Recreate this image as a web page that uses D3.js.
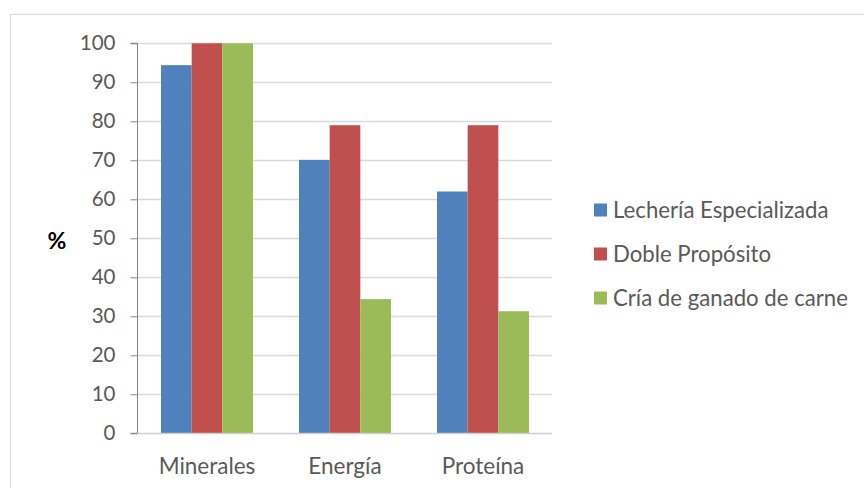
<!DOCTYPE html>
<html><head><meta charset="utf-8">
<script src="https://cdn.jsdelivr.net/npm/d3@7"></script>
<style>body{margin:0;background:#fff;} svg{display:block;font-family:Lato,"Open Sans",sans-serif;}</style>
</head><body><svg id="c" width="864" height="488"></svg>
<script>
const categories = ["Minerales", "Energía", "Proteína"];
const seriesNames = ["Lechería Especializada", "Doble Propósito", "Cría de ganado de carne"];
const lecheria = [94.4, 70.1, 62.0];
const doble = [100, 79.0, 79.0];
const cria = [100, 34.4, 31.3];
const yTicks = [0, 10, 20, 30, 40, 50, 60, 70, 80, 90, 100];
const colors = ["#4F81BD", "#C0504D", "#9BBB59"];
const seriesValues = [lecheria, doble, cria];

const svg = d3.select("#c");
svg.append("rect").attr("x", 10.5).attr("y", 14.5).attr("width", 900).attr("height", 500)
  .attr("fill", "#fff").attr("stroke", "#d9d9d9").attr("stroke-width", 1);

const y = d3.scaleLinear().domain([0, 100]).range([433.3, 43.3]);
const x = d3.scaleBand().domain(categories).range([138, 552]).paddingInner(1/3).paddingOuter(1/6);
const xs = d3.scaleBand().domain(seriesNames).range([0, x.bandwidth()]);

// gridlines
svg.append("g").selectAll("line").data(yTicks.filter(d => d > 0)).join("line")
  .attr("x1", 138).attr("x2", 552).attr("y1", d => Math.round(y(d)) + 0.5).attr("y2", d => Math.round(y(d)) + 0.5)
  .attr("stroke", "#d9d9d9").attr("stroke-width", 1.3);

// bars
const groups = svg.append("g").selectAll("g").data(seriesNames).join("g")
  .attr("fill", (d, i) => colors[i]);
groups.selectAll("rect").data((s, si) => categories.map((c, ci) => ({c, s, v: seriesValues[si][ci]}))).join("rect")
  .attr("x", d => x(d.c) + xs(d.s)).attr("width", xs.bandwidth())
  .attr("y", d => y(d.v)).attr("height", d => y(0) - y(d.v));

// x axis baseline
svg.append("line").attr("x1", 138).attr("x2", 552).attr("y1", Math.round(y(0)) + 0.5).attr("y2", Math.round(y(0)) + 0.5)
  .attr("stroke", "#d0d0d0").attr("stroke-width", 1.3);

// y axis
const yAxis = d3.axisLeft(y).tickValues(yTicks).tickSize(7).tickPadding(15);
const ga = svg.append("g").attr("transform", "translate(137.5,0)").call(yAxis);
ga.select(".domain").attr("stroke", "#868686").attr("d", `M-7,${y(100)}H0V${y(0)}H-7`);
ga.selectAll(".tick line").attr("stroke", "#868686");
ga.selectAll(".tick text").attr("fill", "#595959").style("font-size", "20.5px").style("font-family", "Lato");

// x labels
svg.append("g").selectAll("text").data(categories).join("text")
  .attr("x", d => x(d) + x.bandwidth() / 2).attr("y", 474)
  .attr("text-anchor", "middle").attr("fill", "#595959").style("font-size", "22.5px").text(d => d);

// % label
svg.append("text").attr("x", 57).attr("y", 249).attr("text-anchor", "middle")
  .style("font-size", "23px").style("font-weight", "bold").attr("fill", "#000").text("%");

// legend
const legY = d3.scalePoint().domain(seriesNames).range([210, 298]);
const lg = svg.append("g").selectAll("g").data(seriesNames).join("g")
  .attr("transform", d => `translate(594,${legY(d)})`);
lg.append("rect").attr("x", 0).attr("y", -6.5).attr("width", 13).attr("height", 13).attr("fill", (d, i) => colors[i]);
lg.append("text").attr("x", 19).attr("y", 8).attr("fill", "#595959").style("font-size", "22.2px").text(d => d);
</script></body></html>
